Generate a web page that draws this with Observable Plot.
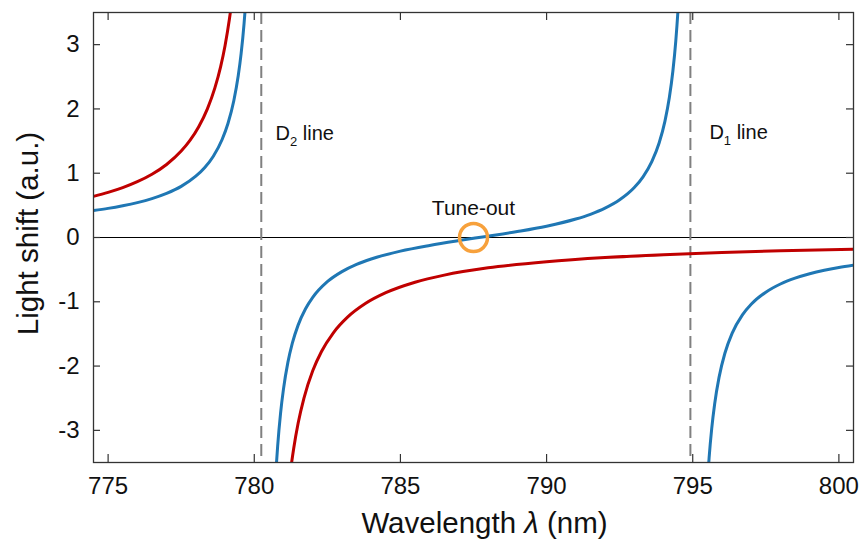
<!DOCTYPE html>
<html>
<head>
<meta charset="utf-8">
<script src="https://cdn.jsdelivr.net/npm/d3@7"></script>
<script src="https://cdn.jsdelivr.net/npm/@observablehq/plot@0.6"></script>
<style>
  html, body { margin: 0; padding: 0; background: white; }
  svg { display: block; }
</style>
</head>
<body>
<div id="chart"></div>
<script>
// ---- Data ----
const xTicks = [775, 780, 785, 790, 795, 800];
const yTicks = [-3, -2, -1, 0, 1, 2, 3];
const xLabel = "Wavelength λ (nm)";
const yLabel = "Light shift (a.u.)";

// resonance lines (nm) and their labels
const lineWl = [780.24, 794.92];
const lineLabels = ["D2 line", "D1 line"];
const lineLabelWl = [780.73, 795.57];
const lineLabelShift = [1.62, 1.63];

// tune-out point
const tuneOutWl = [787.5];
const tuneOutShift = [0];
const tuneOutLabel = ["Tune-out"];

// Blue curve (three branches)
const blueLeftWl    = [774.5, 775, 775.5, 776, 776.5, 777, 777.5, 778, 778.3, 778.6, 778.9, 779.1, 779.3, 779.45, 779.55, 779.65, 779.72, 779.78];
const blueLeftShift = [0.420, 0.453, 0.494, 0.543, 0.605, 0.686, 0.795, 0.953, 1.085, 1.265, 1.525, 1.774, 2.128, 2.511, 2.859, 3.324, 3.756, 4.230];

const blueMidWl    = [780.70, 780.75, 780.80, 780.90, 781.0, 781.15, 781.3, 781.5, 781.75, 782.0, 782.5, 783.0, 783.5, 784.0, 785.0, 786.0, 787.0, 788.0, 789.0, 790.0, 791.0, 791.5, 792.0, 792.5, 793.0, 793.3, 793.6, 793.85, 794.05, 794.2, 794.32, 794.42, 794.5, 794.56];
const blueMidShift = [-3.979, -3.576, -3.245, -2.732, -2.355, -1.943, -1.648, -1.363, -1.112, -0.932, -0.688, -0.531, -0.419, -0.335, -0.212, -0.123, -0.048, 0.021, 0.093, 0.176, 0.287, 0.361, 0.456, 0.586, 0.777, 0.944, 1.180, 1.470, 1.811, 2.177, 2.586, 3.056, 3.567, 4.073];

const blueRightWl    = [795.45, 795.5, 795.56, 795.65, 795.75, 795.9, 796.1, 796.35, 796.7, 797.0, 797.5, 798.0, 798.5, 799.0, 799.5, 800.0, 800.5];
const blueRightShift = [-4.235, -3.824, -3.427, -2.969, -2.589, -2.176, -1.801, -1.488, -1.203, -1.038, -0.850, -0.723, -0.632, -0.563, -0.509, -0.466, -0.430];

// Red curve (two branches)
const redLeftWl    = [774.5, 775, 775.5, 776, 776.5, 777, 777.5, 777.8, 778.1, 778.4, 778.65, 778.85, 779.0, 779.15, 779.25, 779.35];
const redLeftShift = [0.640, 0.702, 0.776, 0.868, 0.984, 1.136, 1.344, 1.510, 1.723, 2.005, 2.323, 2.659, 2.984, 3.398, 3.745, 4.170];

const redRightWl    = [781.2, 781.27, 781.35, 781.5, 781.7, 782.0, 782.3, 782.7, 783.2, 783.8, 784.5, 785.5, 786.5, 788.0, 790.0, 792.0, 794.0, 796.0, 798.0, 800.5];
const redRightShift = [-3.784, -3.529, -3.277, -2.890, -2.497, -2.073, -1.773, -1.486, -1.236, -1.028, -0.859, -0.696, -0.585, -0.472, -0.376, -0.312, -0.267, -0.233, -0.207, -0.181];

// ---- Build tables ----
function rows(wl, shift, branch) {
  return wl.map((x, i) => ({x, y: shift[i], branch}));
}
const blueData = [
  ...rows(blueLeftWl, blueLeftShift, "a"),
  ...rows(blueMidWl, blueMidShift, "b"),
  ...rows(blueRightWl, blueRightShift, "c")
];
const redData = [
  ...rows(redLeftWl, redLeftShift, "a"),
  ...rows(redRightWl, redRightShift, "b")
];
const lineLabelData = lineLabels.map((t, i) => ({t, x: lineLabelWl[i], y: lineLabelShift[i]}));
const tuneData = tuneOutWl.map((x, i) => ({x, y: tuneOutShift[i], t: tuneOutLabel[i]}));

const FONT = "'Liberation Sans', Arial, Helvetica, sans-serif";
const AXIS = "#333";

const chart = Plot.plot({
  width: 862,
  height: 540,
  marginLeft: 93,
  marginRight: 9,
  marginTop: 12,
  marginBottom: 78,
  style: {fontFamily: FONT, fontSize: "24px", color: "#111", background: "white"},
  x: {domain: [774.5, 800.5], label: null},
  y: {domain: [-3.5, 3.5], label: null},
  marks: [
    Plot.ruleY([0], {stroke: "black", strokeWidth: 1}),
    Plot.ruleX(lineWl, {x: d => d, stroke: "#808080", strokeWidth: 2, strokeDasharray: "12,6"}),
    Plot.line(redData, {x: "x", y: "y", z: "branch", stroke: "#c00000", strokeWidth: 3, curve: "monotone-x", clip: true}),
    Plot.line(blueData, {x: "x", y: "y", z: "branch", stroke: "#1f77b4", strokeWidth: 3, curve: "monotone-x", clip: true}),
    Plot.dot(tuneData, {x: "x", y: "y", r: 14, fill: "none", stroke: "#f7a13c", strokeWidth: 3.5}),
    Plot.text(tuneData, {x: "x", y: "y", text: "t", dy: -29, fontSize: 21, fill: "#111"}),
    Plot.text(lineLabelData, {x: "x", y: "y", text: "t", textAnchor: "start", fontSize: 20, fill: "#111"}),
    // tick labels
    Plot.axisX(xTicks, {tickSize: 0, tickPadding: 14, label: null, fontSize: 24, fill: "#111"}),
    Plot.axisY(yTicks, {tickSize: 0, tickPadding: 14, label: null, fontSize: 24, fill: "#111", tickFormat: d => String(d)}),
    // inward ticks on all four sides
    Plot.tickX(xTicks, {x: d => d, insetTop: 442, stroke: AXIS, strokeWidth: 1.2}),
    Plot.tickX(xTicks, {x: d => d, insetBottom: 442, stroke: AXIS, strokeWidth: 1.2}),
    Plot.tickY(yTicks, {y: d => d, insetRight: 753, stroke: AXIS, strokeWidth: 1.2}),
    Plot.tickY(yTicks, {y: d => d, insetLeft: 753, stroke: AXIS, strokeWidth: 1.2}),
    Plot.frame({stroke: AXIS, strokeWidth: 1.3}),
    // axis titles
    Plot.text([xLabel], {frameAnchor: "bottom", lineAnchor: "middle", textAnchor: "middle", dx: 11, dy: 61, fontSize: 29.5, fill: "#111"}),
    Plot.text([yLabel], {frameAnchor: "left", lineAnchor: "middle", textAnchor: "middle", rotate: -90, dx: -65, dy: -4, fontSize: 29.5, fill: "#111"})
  ]
});

// rich text: italic lambda, subscripts
d3.select(chart).selectAll("text").each(function() {
  const t = this.textContent;
  const sel = d3.select(this);
  if (t === xLabel) {
    sel.text(null);
    sel.append("tspan").text("Wavelength ");
    sel.append("tspan").attr("font-style", "italic").text("λ");
    sel.append("tspan").text(" (nm)");
  } else if (t === "D2 line" || t === "D1 line") {
    sel.text(null);
    sel.append("tspan").text("D");
    sel.append("tspan").attr("font-size", 13).attr("dy", 6).text(t.charAt(1));
    sel.append("tspan").attr("dy", -6).text(" line");
  }
});

document.getElementById("chart").appendChild(chart);
</script>
</body>
</html>
